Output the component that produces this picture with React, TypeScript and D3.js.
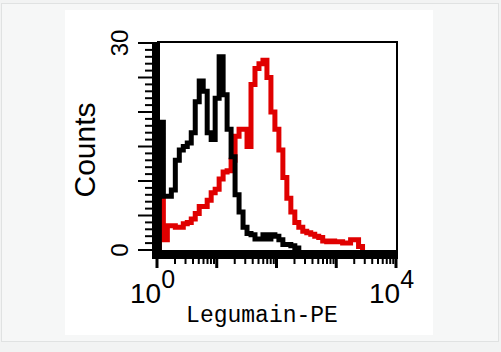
import * as d3 from 'd3'
import { useEffect, useRef } from 'react'

// histogram counts, one value per bin (bin width = 1/15 decade)
const binStart = 0.04
const binWidth = 1 / 15
const control = [
  18.5, 7.8, 7.8, 8.7, 13, 14.5, 15, 15.5, 17, 21.5, 24.5, 23, 17, 16, 22, 28,
  22.5, 17.5, 13.5, 8, 5.5, 3.3, 2.4, 2.2, 1.6, 1.6, 2.2, 1.6, 2.2, 2, 1.5, 0.8,
  0.8, 0.6, 0.3,
]
const legumain = [
  7.5, 1.5, 3.5, 3.5, 3.3, 3.3, 3.8, 4, 4.5, 5.3, 6.3, 6.3, 7.2, 8.3, 8.8, 10.3,
  11.3, 11.5, 13, 16.5, 17.5, 17.5, 15, 24, 26.3, 27, 27.5, 25, 20, 17.5, 14.5,
  10.5, 7.5, 5.5, 4, 3.3, 2.7, 2.5, 2.3, 2, 1.8, 1.3, 1.2, 1.3, 1.2, 1.2, 1, 1,
  1.5, 1.5, 0.5,
]
const yTickLabels = [0, 30]
const xTickLabels = [0, 4]

export default function App() {
  const ref = useRef<SVGSVGElement>(null)

  useEffect(() => {
    const svg = d3.select(ref.current)
    svg.selectAll('*').remove()

    svg.append('rect').attr('width', 501).attr('height', 352).attr('fill', '#f2f3f3')
    svg
      .append('rect')
      .attr('x', 1.5)
      .attr('y', 3.5)
      .attr('width', 497)
      .attr('height', 338)
      .attr('fill', '#f6f7f7')
      .attr('stroke', '#e0e2e2')
    svg.append('rect').attr('x', 65).attr('y', 10).attr('width', 368).attr('height', 325).attr('fill', '#fff')

    const x = d3.scaleLog().domain([1, 1e4]).range([157, 396])
    const y = d3.scaleLinear().domain([0, 30]).range([250, 43])

    const toPoints = (vals: number[]) => {
      const edge = (k: number) => Math.pow(10, binStart + k * binWidth)
      const pts: [number, number][] = [[edge(0), 0]]
      vals.forEach((v, k) => pts.push([edge(k), v]))
      pts.push([edge(vals.length), vals[vals.length - 1]])
      pts.push([edge(vals.length), 0])
      return pts
    }

    const line = d3
      .line<[number, number]>()
      .x((d) => x(d[0]))
      .y((d) => y(d[1]))
      .curve(d3.curveStepAfter)

    const plot = svg.append('g')
    plot
      .append('path')
      .datum(toPoints(legumain))
      .attr('d', line)
      .attr('fill', 'none')
      .attr('stroke', '#e00000')
      .attr('stroke-width', 5)
    plot
      .append('path')
      .datum(toPoints(control))
      .attr('d', line)
      .attr('fill', 'none')
      .attr('stroke', '#000')
      .attr('stroke-width', 5)

    // frame
    svg
      .append('rect')
      .attr('x', 158)
      .attr('y', 42)
      .attr('width', 239)
      .attr('height', 209)
      .attr('fill', 'none')
      .attr('stroke', '#000')
      .attr('stroke-width', 2)

    // thick axis bars
    svg.append('line').attr('x1', 156).attr('x2', 156).attr('y1', 42).attr('y2', 259).attr('stroke', '#000').attr('stroke-width', 8)
    svg.append('line').attr('x1', 152).attr('x2', 398).attr('y1', 255).attr('y2', 255).attr('stroke', '#000').attr('stroke-width', 8)

    // y ticks
    svg
      .selectAll('line.yt')
      .data(d3.range(0, 31))
      .join('line')
      .attr('x1', (d) => (d % 5 === 0 ? 138 : 145))
      .attr('x2', 152)
      .attr('y1', (d) => y(d))
      .attr('y2', (d) => y(d))
      .attr('stroke', '#000')
      .attr('stroke-width', 2)

    // x ticks
    svg
      .selectAll('line.xt')
      .data(x.ticks())
      .join('line')
      .attr('x1', (d) => x(d))
      .attr('x2', (d) => x(d))
      .attr('y1', 258)
      .attr('y2', (d) => (Number.isInteger(Math.log10(d)) ? 268 : 264))
      .attr('stroke', '#000')
      .attr('stroke-width', (d) => (Number.isInteger(Math.log10(d)) ? 3 : 2))

    const sans = 'Liberation Sans, Arial, sans-serif'

    svg
      .selectAll('text.yl')
      .data(yTickLabels)
      .join('text')
      .attr('transform', (d) => `translate(128,${y(d)}) rotate(-90)`)
      .attr('text-anchor', 'middle')
      .attr('font-family', sans)
      .attr('font-size', 24)
      .text((d) => d)

    svg
      .append('text')
      .attr('transform', 'translate(95,150) rotate(-90)')
      .attr('text-anchor', 'middle')
      .attr('font-family', sans)
      .attr('font-size', 30)
      .text('Counts')

    const xl = svg
      .selectAll('text.xl')
      .data(xTickLabels)
      .join('text')
      .attr('x', (d) => x(Math.pow(10, d)) - 27)
      .attr('y', 303)
      .attr('font-family', sans)
      .attr('font-size', 28)
      .text('10')
    xl.append('tspan')
      .attr('dy', -15)
      .attr('font-size', 25)
      .text((d) => d)

    svg
      .append('text')
      .attr('x', 262)
      .attr('y', 322)
      .attr('text-anchor', 'middle')
      .attr('font-family', 'Liberation Mono, monospace')
      .attr('font-size', 23)
      .text('Legumain-PE')
  }, [])

  return (
    <div style={{ position: 'absolute', left: 0, top: 0 }}>
      <svg ref={ref} width={501} height={352} style={{ display: 'block' }} />
    </div>
  )
}
